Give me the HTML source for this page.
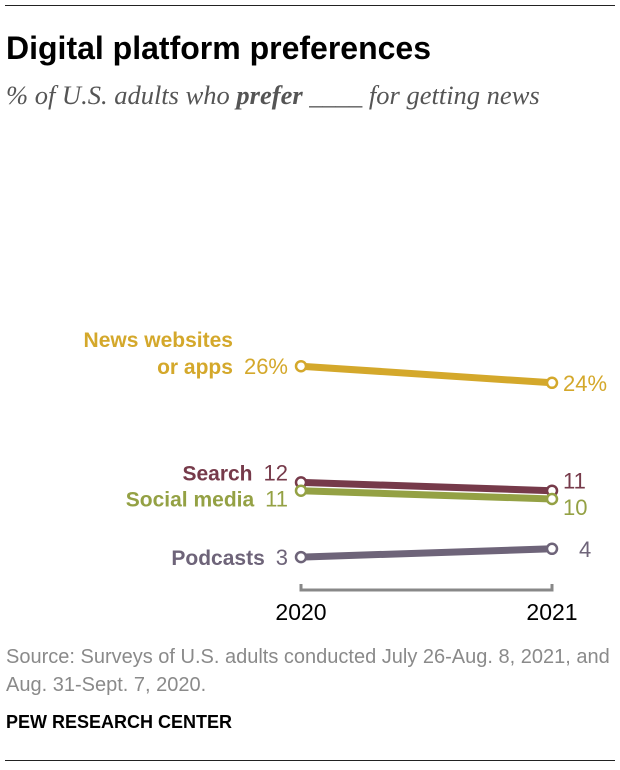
<!DOCTYPE html>
<html><head><meta charset="utf-8"><style>
body{margin:0;background:#fff;font-family:"Liberation Sans",sans-serif;}
#wrap{position:relative;width:620px;height:770px;overflow:hidden}
.abs{position:absolute}
</style></head><body>
<div id="wrap">
<div class="abs" style="left:5px;top:5px;width:610px;height:1px;background:#222"></div>
<div class="abs" style="left:6px;top:30px;font-size:32px;font-weight:bold;color:#000;white-space:nowrap">Digital platform preferences</div>
<div class="abs" style="left:6px;top:80px;font-family:'Liberation Serif',serif;font-style:italic;font-size:26.5px;color:#555;white-space:nowrap">% of U.S. adults who <b>prefer</b> ____ for getting news</div>
<svg class="abs" style="left:0;top:0" width="620" height="770" id="svg"></svg>
<div class="abs" style="left:6px;top:643px;font-size:20px;line-height:28px;color:#8a8a8a;white-space:nowrap">Source: Surveys of U.S. adults conducted July 26-Aug. 8, 2021, and<br>Aug. 31-Sept. 7, 2020.</div>
<div class="abs" style="left:6px;top:712px;font-size:18px;font-weight:bold;color:#000">PEW RESEARCH CENTER</div>
<div class="abs" style="left:5px;top:760px;width:610px;height:1px;background:#222"></div>
</div>
<script>
const years=["2020","2021"];
const seriesNames=["News websites or apps","Search","Social media","Podcasts"];
const v2020=[26,12,11,3];
const v2021=[24,11,10,4];
const labels2020=["26%","12","11","3"];
const labels2021=["24%","11","10","4"];
const colors=["#d4a82b","#763a4a","#94a144","#6e6479"];
const NS="http://www.w3.org/2000/svg";
const svg=document.getElementById('svg');
function x(i){return 301+i*251;}
function y(v){return 582-v*8.3;}
function mk(t,a){const e=document.createElementNS(NS,t);for(const k in a)e.setAttribute(k,a[k]);svg.appendChild(e);return e;}
let ax=mk('path',{d:`M${x(0)} 584V590H${x(1)}V584`,stroke:'#888',fill:'none','stroke-width':3});


years.forEach((yr,i)=>{const t=mk('text',{x:x(i),y:620,'text-anchor':'middle','font-size':23,fill:'#000'});t.textContent=yr;

});
const nameLines=[["News websites","or apps"],["Search"],["Social media"],["Podcasts"]];
const nameDy=[[-27,0],[0],[0],[0]];
const lblOff=[0,-10,8,0];
for(let s=0;s<4;s++){
 const c=colors[s];
 const ln=mk('line',{x1:x(0),y1:y(v2020[s]),x2:x(1),y2:y(v2021[s]),stroke:c,'stroke-width':7});
 
 
 [v2020[s],v2021[s]].forEach((v,i)=>{const p=mk('circle',{cx:x(i),cy:y(v),r:5,fill:'#fff',stroke:c,'stroke-width':2.5});
 
 });
 const ly0=y(v2020[s])+lblOff[s]+8, ly1=y(v2021[s])+lblOff[s]+8;
 const a=mk('text',{x:x(0)-13,y:ly0,'text-anchor':'end','font-size':22,fill:c});a.textContent=labels2020[s];
 
 
 const b=mk('text',{x:x(1)+(s==3?27:11),y:ly1,'font-size':22,fill:c});b.textContent=labels2021[s];
 
 
 const lw=a.getComputedTextLength();
 nameLines[s].forEach((t,k)=>{const n=mk('text',{x:x(0)-13-lw-11,y:ly0+nameDy[s][k],'text-anchor':'end','font-size':21,'font-weight':'bold',fill:c});n.textContent=t;
 
 });
}
</script>
</body></html>
